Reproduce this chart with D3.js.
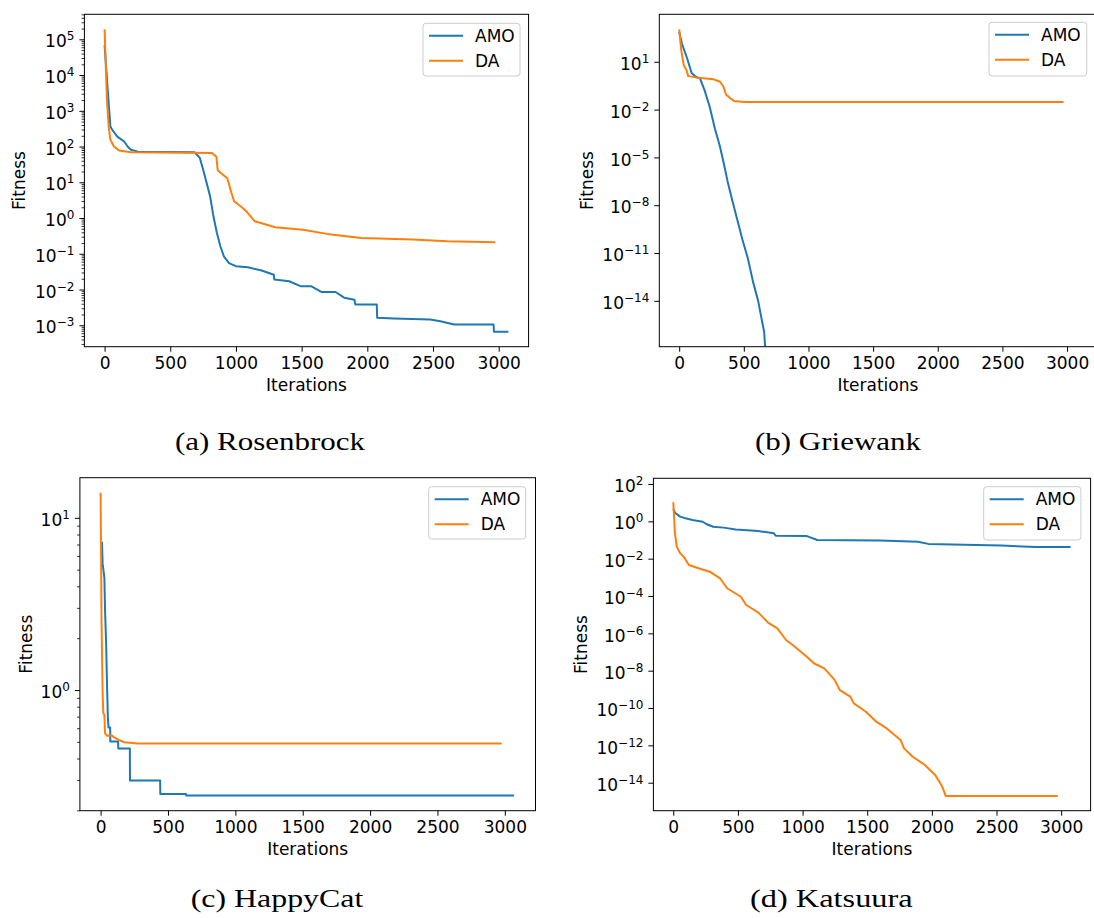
<!DOCTYPE html>
<html><head><meta charset="utf-8">
<script src="https://cdn.jsdelivr.net/npm/d3@7"></script>
<style>
body{margin:0;background:#fff;}
svg text{font-family:"DejaVu Sans",sans-serif;fill:#000;}
</style></head><body>
<svg id="chart" width="1094" height="918"></svg>
<script>
// ---------------- data ----------------
const iterTicks = [0, 500, 1000, 1500, 2000, 2500, 3000];
const seriesNames = ["AMO", "DA"];
const seriesColors = ["#1f77b4", "#ff7f0e"];
const captions = ["(a) Rosenbrock", "(b) Griewank", "(c) HappyCat", "(d) Katsuura"];

// (a) Rosenbrock
const rosenAmoIter = [0,24,44,58,97,149,175,201,254,685,725,751,777,803,829,855,882,908,947,999,1091,1196,1288,1292,1405,1496,1575,1653,1758,1824,1902,1909,2072,2075,2203,2478,2556,2661,2961,2964,3074];
const rosenAmoFit  = [6.9e4,3800,363,295,190,138,100,81,72,69,48,22,9.5,4.1,1.1,0.38,0.16,0.085,0.055,0.045,0.042,0.034,0.026,0.019,0.017,0.0123,0.0123,0.0085,0.0085,0.0059,0.0052,0.0038,0.0038,0.00162,0.00155,0.00145,0.00129,0.00105,0.00105,0.00066,0.00066];
const rosenDaIter  = [0,18,31,44,71,110,201,817,851,861,871,934,966,986,1038,1078,1143,1300,1510,1693,1954,2346,2608,2974];
const rosenDaFit   = [1.9e5,2000,363,155,100,78,69,66,52,22,20,13,5,2.95,2.1,1.55,0.81,0.55,0.47,0.36,0.275,0.25,0.224,0.209];
const rosenExps    = [-3,-2,-1,0,1,2,3,4,5];

// (b) Griewank
const griewAmoIter = [0,21,62,96,129,161,196,236,276,316,343,375,410,450,490,531,571,612,644,657,665];
const griewAmoFit  = [760,141,16,2.0,1.15,0.91,0.166,0.0151,6.6e-4,4.7e-5,4.9e-6,3.0e-7,2.1e-8,1.17e-9,6.6e-11,4.7e-12,1.6e-13,8.9e-15,3.9e-16,1.17e-16,0];
const griewDaIter  = [0,16,35,56,70,129,263,316,343,362,397,424,505,2973];
const griewDaFit   = [1070,54,6.2,3.0,1.26,1.05,0.81,0.56,0.27,0.089,0.05,0.035,0.0295,0.0295];
const griewExps    = [-14,-11,-8,-5,-2,1];

// (c) HappyCat
const happyAmoIter = [0,10,15,28,33,41,48,54,59,71,72,130,131,217,218,442,443,634,635,3069];
const happyAmoFit  = [7.2,7.2,5.4,4.5,2.9,1.86,1.04,0.685,0.605,0.605,0.502,0.502,0.457,0.457,0.298,0.298,0.249,0.249,0.244,0.244];
const happyDaIter  = [0,2,7,15,20,28,33,46,84,97,135,174,276,2977];
const happyDaFit   = [14.0,8.8,2.43,0.957,0.733,0.717,0.561,0.542,0.545,0.532,0.513,0.497,0.489,0.489];
const happyExps    = [0,1];

// (d) Katsuura
const katsAmoIter = [0,13,53,94,148,228,255,309,389,483,657,778,792,1033,1114,1597,1892,1973,2536,2804,3073];
const katsAmoFit  = [4.6,2.9,1.78,1.45,1.17,0.95,0.72,0.51,0.46,0.37,0.30,0.23,0.17,0.162,0.10,0.095,0.081,0.062,0.051,0.042,0.042];
const katsDaIter  = [0,13,27,53,80,121,201,282,362,416,523,564,658,738,805,872,926,1033,1087,1168,1248,1288,1369,1396,1490,1570,1651,1758,1785,1852,1946,2026,2080,2107,2974];
const katsDaFit   = [10.5,0.23,0.044,0.0195,0.0129,4.6e-3,3.0e-3,2.0e-3,8.9e-4,2.6e-4,9.1e-5,3.3e-5,1.29e-5,3.5e-6,1.86e-6,4.4e-7,2.3e-7,5.6e-8,2.5e-8,1.32e-8,3.2e-9,9.1e-10,4.1e-10,1.78e-10,6.3e-11,1.86e-11,8.1e-12,1.95e-12,6.9e-13,2.45e-13,8.9e-14,2.6e-14,6.2e-15,1.95e-15,1.95e-15];
const katsExps    = [-14,-12,-10,-8,-6,-4,-2,0,2];

// axis limits (log10 of fitness) and iteration limits
const iterLimits = [-153.7, 3227.7];
const rosenLogLim = [-3.60, 5.70];
const griewLogLim = [-16.88, 3.98];
const happyLogLim = [-0.701, 1.233];
const katsLogLim  = [-15.5, 2.305];

// ---------------- layout ----------------
const panels = [
  {box:{l:84.4,r:528.6,t:14.3,b:346.7}, ylabX:19.5, cap:{x:175,y:450,w:190},
   series:[[rosenAmoIter,rosenAmoFit],[rosenDaIter,rosenDaFit]], exps:rosenExps, lim:rosenLogLim, minor:true,
   legend:{l:423,t:23.3,w:97,h:52.7}},
  {box:{l:659.3,r:1096.5,t:14.3,b:346.7}, ylabX:587.5, cap:{x:755,y:450,w:166},
   series:[[griewAmoIter,griewAmoFit],[griewDaIter,griewDaFit]], exps:griewExps, lim:griewLogLim, minor:false,
   legend:{l:989,t:22.3,w:97.7,h:53.7}},
  {box:{l:79.9,r:535.5,t:477.7,b:810.7}, ylabX:25.8, cap:{x:190.7,y:907,w:172.6},
   series:[[happyAmoIter,happyAmoFit],[happyDaIter,happyDaFit]], exps:happyExps, lim:happyLogLim, minor:true,
   legend:{l:428.7,t:486.7,w:97,h:52.3}},
  {box:{l:653.4,r:1090.6,t:478.3,b:810.7}, ylabX:581.2, cap:{x:750,y:907,w:162.7},
   series:[[katsAmoIter,katsAmoFit],[katsDaIter,katsDaFit]], exps:katsExps, lim:katsLogLim, minor:false,
   legend:{l:983.7,t:486.7,w:97.2,h:53.3}}
];

const svg = d3.select("#chart");
const FS = 17;

panels.forEach((p, pi) => {
  const g = svg.append("g");
  const B = p.box;
  const x = d3.scaleLinear().domain(iterLimits).range([B.l, B.r]);
  const yDom = [Math.pow(10, p.lim[0]), Math.pow(10, p.lim[1])];
  const y = d3.scaleLog().domain(yDom).range([B.b, B.t]);

  const clipId = "clip" + pi;
  svg.append("clipPath").attr("id", clipId).append("rect")
    .attr("x", B.l).attr("y", B.t).attr("width", B.r - B.l).attr("height", B.b - B.t);

  const line = d3.line()
    .x(d => x(d[0]))
    .y(d => y(Math.max(d[1], yDom[0])));

  p.series.forEach((s, si) => {
    const pts = s[0].map((it, i) => [it, s[1][i]]);
    g.append("path").datum(pts)
      .attr("d", line)
      .attr("fill", "none")
      .attr("stroke", seriesColors[si])
      .attr("stroke-width", 2)
      .attr("stroke-linejoin", "round")
      .attr("clip-path", `url(#${clipId})`);
  });

  // x axis
  const xa = g.append("g").attr("transform", `translate(0,${B.b})`)
    .call(d3.axisBottom(x).tickValues(iterTicks).tickSize(5).tickPadding(5).tickFormat(d3.format("d")));
  xa.select(".domain").remove();
  xa.selectAll("text").attr("font-size", FS).attr("font-family", "DejaVu Sans");
  xa.selectAll("line").attr("stroke-width", 1);

  // y minor ticks
  if (p.minor) {
    const minors = [];
    for (let e = Math.floor(p.lim[0]); e <= Math.ceil(p.lim[1]); e++) {
      for (let k = 2; k <= 9; k++) {
        const v = k * Math.pow(10, e);
        if (v >= yDom[0] * 0.999 && v <= yDom[1]) minors.push(v);
      }
    }
    const ym = g.append("g").attr("transform", `translate(${B.l},0)`)
      .call(d3.axisLeft(y).tickValues(minors).tickSize(2.8).tickFormat(""));
    ym.select(".domain").remove();
    ym.selectAll("line").attr("stroke-width", 0.8);
  }

  // y major ticks
  const majors = p.exps.map(e => Math.pow(10, e));
  const ya = g.append("g").attr("transform", `translate(${B.l},0)`)
    .call(d3.axisLeft(y).tickValues(majors).tickSize(5).tickPadding(5).tickFormat(""));
  ya.select(".domain").remove();
  ya.selectAll("line").attr("stroke-width", 1);
  ya.selectAll(".tick text").each(function(d) {
    const t = d3.select(this);
    const e = Math.round(Math.log10(d));
    t.attr("font-size", FS).attr("font-family", "DejaVu Sans").attr("dy", "0.45em");
    t.append("tspan").text("10");
    t.append("tspan").attr("font-size", 12).attr("dy", -7)
      .text(e < 0 ? "\u2212" + (-e) : String(e));
  });

  // spines
  g.append("rect").attr("x", B.l).attr("y", B.t)
    .attr("width", B.r - B.l).attr("height", B.b - B.t)
    .attr("fill", "none").attr("stroke", "#000").attr("stroke-width", 1);

  // axis labels
  g.append("text").attr("x", (B.l + B.r) / 2).attr("y", B.b + 44)
    .attr("text-anchor", "middle").attr("font-size", FS).text("Iterations");
  g.append("text")
    .attr("transform", `translate(${p.ylabX},${(B.t + B.b) / 2}) rotate(-90)`)
    .attr("text-anchor", "middle").attr("dy", "0.35em").attr("font-size", FS).text("Fitness");

  // legend
  const L = p.legend;
  const lg = g.append("g");
  lg.append("rect").attr("x", L.l).attr("y", L.t).attr("width", L.w).attr("height", L.h)
    .attr("rx", 3).attr("fill", "#fff").attr("fill-opacity", 0.8)
    .attr("stroke", "#cccccc").attr("stroke-width", 1);
  seriesNames.forEach((nm, si) => {
    const ry = L.t + 12.5 + si * 25;
    lg.append("line").attr("x1", L.l + 6).attr("x2", L.l + 40).attr("y1", ry).attr("y2", ry)
      .attr("stroke", seriesColors[si]).attr("stroke-width", 2);
    lg.append("text").attr("x", L.l + 52).attr("y", ry).attr("dy", "0.36em")
      .attr("font-size", FS).text(nm);
  });

  // caption
  svg.append("text").attr("x", p.cap.x).attr("y", p.cap.y)
    .attr("font-family", "Liberation Serif, serif").style("font-family", "'Liberation Serif', serif")
    .attr("font-size", 26)
    .attr("textLength", p.cap.w).attr("lengthAdjust", "spacingAndGlyphs")
    .text(captions[pi]);
});
</script>
</body></html>
